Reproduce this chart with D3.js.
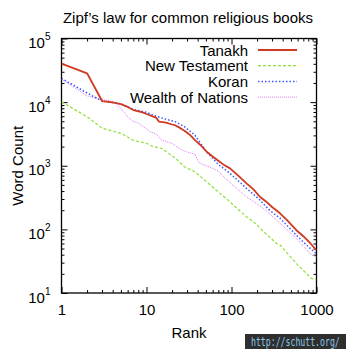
<!DOCTYPE html>
<html><head><meta charset="utf-8">
<script src="https://cdn.jsdelivr.net/npm/d3@7"></script>
<style>html,body{margin:0;padding:0;background:#fff;}svg{display:block;font-family:"Liberation Sans",Arial,Helvetica,sans-serif;}</style>
</head><body>
<script>
const title = "Zipf’s law for common religious books";
const xLabel = "Rank";
const yLabel = "Word Count";
const xTickValues = [1, 10, 100, 1000];
const yTickValues = [10, 100, 1000, 10000, 100000];
const seriesNames = ["Tanakh", "New Testament", "Koran", "Wealth of Nations"];

const tanakhRank = [1,2,3,4,5,6,7,9,10,12,13,14,17,20,22,25,28,32,37,45,51,60,70,80,96,120,150,180,216,250,300,372,450,580,700,850,1000];
const tanakhCount = [40200,28400,10400,9900,9300,8400,7500,6900,6500,5900,5700,4950,4750,4450,4300,3900,3550,3100,2550,2000,1660,1400,1200,1050,910,700,528,430,326,280,225,179,140,97,78,60,47];

const ntRank = [1,2,3,5,7,10,12,15,22,28,37,51,73,96,105,150,200,216,339,372,580,871,1000];
const ntCount = [10100,5900,3900,3230,2500,2250,2000,1880,1310,963,805,560,368,272,241,158,118,104,60,57,29,17,16];

const koranRank = [1,2,3,5,7,10,13,16,22,28,37,51,70,96,120,150,216,280,372,450,580,750,1000];
const koranCount = [23700,13900,10400,9400,7700,6900,6000,5500,4900,4100,3040,1660,1050,760,580,441,290,200,150,115,81,58,41];

const wonRank = [1,2,3,4,5,6,7,8,10,11,13,15,20,26,32,37,42,67,96,150,237,339,580,871,1000];
const wonCount = [23000,12500,11000,10300,8000,5900,4950,4700,3800,3430,3150,2530,2250,1770,1600,1520,1100,856,545,326,214,140,72,39.5,37];

const W = 346, H = 349;
const L = 61.5, R = 316.5, T = 38.5, B = 293;

const svg = d3.select("body").append("svg").attr("width", W).attr("height", H);
const x = d3.scaleLog().domain([1, 1000]).range([L, R]);
const y = d3.scaleLog().domain([10, 100000]).range([B, T]);

const minorX = [], minorY = [];
for (let d = 1; d < 1000; d *= 10) for (let k = 2; k <= 9; k++) minorX.push(d * k);
for (let d = 10; d < 100000; d *= 10) for (let k = 2; k <= 9; k++) minorY.push(d * k);

function styleAxis(g){ g.select(".domain").remove(); g.selectAll("line").attr("stroke","#000").attr("stroke-width",1); }

// minor ticks
svg.append("g").attr("transform",`translate(0,${B})`).call(d3.axisBottom(x).tickValues(minorX).tickSize(-3).tickFormat("")).call(styleAxis);
svg.append("g").attr("transform",`translate(0,${T})`).call(d3.axisTop(x).tickValues(minorX).tickSize(-3).tickFormat("")).call(styleAxis);
svg.append("g").attr("transform",`translate(${L},0)`).call(d3.axisLeft(y).tickValues(minorY).tickSize(-3).tickFormat("")).call(styleAxis);
svg.append("g").attr("transform",`translate(${R},0)`).call(d3.axisRight(y).tickValues(minorY).tickSize(-3).tickFormat("")).call(styleAxis);
// major ticks
const xb = svg.append("g").attr("transform",`translate(0,${B})`)
  .call(d3.axisBottom(x).tickValues(xTickValues).tickSize(-6).tickPadding(11).tickFormat(d3.format("d"))).call(styleAxis);
xb.selectAll("text").attr("font-size",15).attr("fill","#000").attr("font-family",null);
svg.append("g").attr("transform",`translate(0,${T})`).call(d3.axisTop(x).tickValues(xTickValues).tickSize(-6).tickFormat("")).call(styleAxis);
const yl = svg.append("g").attr("transform",`translate(${L},0)`)
  .call(d3.axisLeft(y).tickValues(yTickValues).tickSize(-6).tickPadding(11).tickFormat("")).call(styleAxis);
yl.selectAll("text").each(function(d){
  const t = d3.select(this).attr("font-size",15).attr("fill","#000").attr("font-family",null).attr("dy","0.6em");
  t.append("tspan").text("10");
  t.append("tspan").attr("font-size",10).attr("dy","-0.8em").text(Math.round(Math.log10(d)));
});
svg.append("g").attr("transform",`translate(${R},0)`).call(d3.axisRight(y).tickValues(yTickValues).tickSize(-6).tickFormat("")).call(styleAxis);

// frame
svg.append("rect").attr("x",L).attr("y",T).attr("width",R-L).attr("height",B-T)
  .attr("fill","none").attr("stroke","#000").attr("stroke-width",1.3);

// clip
svg.append("clipPath").attr("id","clip").append("rect").attr("x",L).attr("y",T).attr("width",R-L).attr("height",B-T);

const series = [
  {name: seriesNames[0], r: tanakhRank, c: tanakhCount, color: "#d03a22", w: 1.8, dash: null},
  {name: seriesNames[1], r: ntRank, c: ntCount, color: "#8fe03a", w: 1.2, dash: "3,2"},
  {name: seriesNames[2], r: koranRank, c: koranCount, color: "#3f55ff", w: 1.5, dash: "1.5,2"},
  {name: seriesNames[3], r: wonRank, c: wonCount, color: "#dd7af0", w: 1, dash: "1,1"}
];
const line = d3.line().x(d => x(d[0])).y(d => y(d[1]));
const plotG = svg.append("g").attr("clip-path","url(#clip)");
[1,3,2,0].forEach(i => {
  const s = series[i];
  plotG.append("path").datum(s.r.map((r,j)=>[r,s.c[j]])).attr("d",line)
    .attr("fill","none").attr("stroke",s.color).attr("stroke-width",s.w)
    .attr("stroke-dasharray",s.dash).attr("stroke-linejoin","round");
});

// legend
const legY = [50, 65.7, 81.4, 97.1];
series.forEach((s,i) => {
  svg.append("text").attr("x",248).attr("y",legY[i]+5.5).attr("text-anchor","end")
    .attr("font-size",15).attr("fill","#000").text(s.name);
  svg.append("line").attr("x1",258).attr("x2",297).attr("y1",legY[i]).attr("y2",legY[i])
    .attr("stroke",s.color).attr("stroke-width",s.w).attr("stroke-dasharray",s.dash);
});

// titles
svg.append("text").attr("x",188).attr("y",23).attr("text-anchor","middle").attr("font-size",15).text(title);
svg.append("text").attr("x",189).attr("y",338).attr("text-anchor","middle").attr("font-size",15).text(xLabel);
svg.append("text").attr("transform",`translate(23,${(T+B)/2}) rotate(-90)`).attr("text-anchor","middle").attr("font-size",15).text(yLabel);

// watermark
svg.append("rect").attr("x",245).attr("y",334).attr("width",101).attr("height",15).attr("fill","#2f2f2f");
svg.append("text").attr("transform","translate(251,346.3) scale(1,1.45)")
  .attr("font-family","DejaVu Sans Mono, monospace").attr("font-size",8.2)
  .attr("fill","#8cc8e6").text("http://schutt.org/");
</script>
</body></html>
